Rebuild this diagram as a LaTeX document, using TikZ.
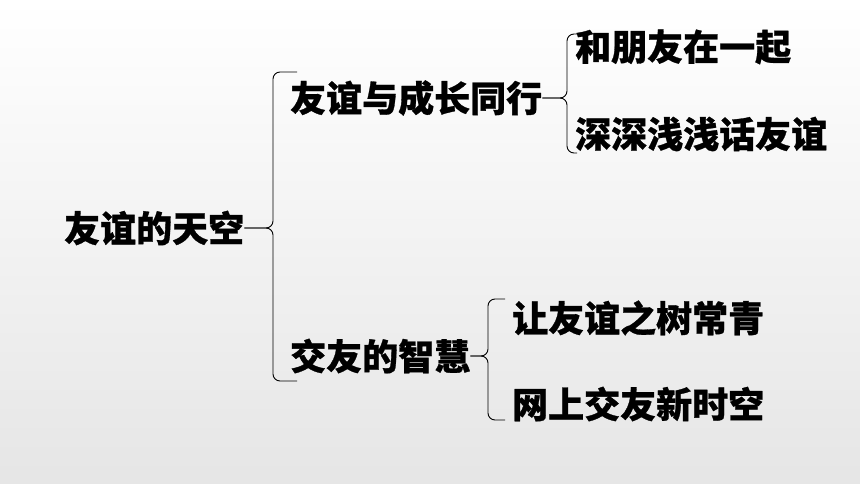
\documentclass[tikz,border=0pt]{standalone}
\usepackage{fontspec}
\newfontfamily\cjk{Noto Sans CJK SC}[BoldFeatures={FakeBold=0.8}]
\usetikzlibrary{positioning}

\begin{document}
\begin{tikzpicture}[
    x=1pt, y=-1pt,
    every node/.style={
        font=\cjk\bfseries\fontsize{36}{40}\selectfont,
        inner sep=0pt,
        anchor=west
    },
    brace/.style={
        draw, line width=0.9pt,
        rounded corners=7pt
    }
]
\shade[top color=white, middle color=black!2, bottom color=black!10]
    (0,0) rectangle (860,484);
\useasboundingbox (0,0) rectangle (860,484);

\node (root) at (64,228) {友谊的天空};
\node (grow) at (290,98) {友谊与成长同行};
\node (wise) at (290,356) {交友的智慧};
\node (together) at (575,47) {和朋友在一起};
\node (talk) at (575,134) {深深浅浅话友谊};
\node (evergreen) at (512,318) {让友谊之树常青};
\node (online) at (512,404) {网上交友新时空};

% brace ends
\coordinate (top1) at (297,72);
\coordinate (bot1) at (297,381);
\coordinate (top2) at (577,34);
\coordinate (bot2) at (577,153);
\coordinate (top3) at (505,299);
\coordinate (bot3) at (505,420);

\draw[brace] (root.east) -| ([xshift=-24pt]top1) -- (top1);
\draw[brace] (root.east) -| ([xshift=-24pt]bot1) -- (bot1);
\draw[brace] (grow.east) -| ([xshift=-10pt]top2) -- (top2);
\draw[brace] (grow.east) -| ([xshift=-10pt]bot2) -- (bot2);
\draw[brace] (wise.east) -| ([xshift=-17pt]top3) -- (top3);
\draw[brace] (wise.east) -| ([xshift=-17pt]bot3) -- (bot3);
\end{tikzpicture}
\end{document}
